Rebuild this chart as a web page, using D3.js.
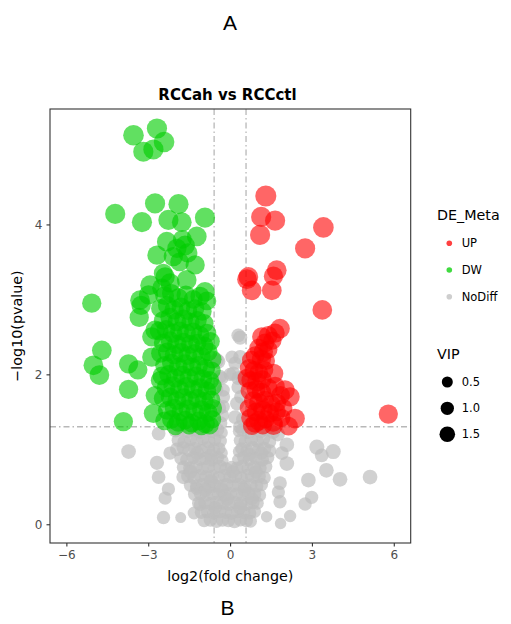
<!DOCTYPE html>
<html><head><meta charset="utf-8">
<script src="https://cdn.jsdelivr.net/npm/d3@7"></script>
<style>body{margin:0;background:#fff}</style>
</head><body>
<svg id="chart" width="511" height="624"></svg>
<script>
// ---------- data: [log2FC, -log10(p), VIP] ----------
const upPoints = [
  [1.31,4.38,2.7],[1.14,4.10,2.5],[1.65,4.05,2.5],[1.10,3.86,2.5],[3.42,3.96,2.6],[2.75,3.68,2.5],
  [0.67,3.30,2.4],[0.62,3.27,2.4],[0.79,3.12,2.4],[1.53,3.12,2.4],[1.71,3.39,2.4],[1.59,3.31,2.3],
  [3.38,2.86,2.4],[5.80,1.47,2.3],
  [1.83,2.61,2.4],[1.65,2.55,2.3],[1.16,2.50,2.3],[1.40,2.52,2.2],[1.28,2.42,2.2],[1.55,2.45,2.1],
  [1.05,2.35,2.2],[1.22,2.30,2.3],[1.40,2.33,2.1],[0.92,2.25,2.2],[1.15,2.20,2.3],[0.78,2.19,2.2],[1.32,2.18,2.0],
  [0.70,2.08,2.2],[0.88,2.05,2.3],[1.05,2.02,2.2],[1.25,2.06,2.1],[1.59,2.01,2.4],[0.62,1.95,2.2],[0.75,1.92,2.1],[0.98,1.90,2.3],[1.18,1.93,2.2],
  [0.72,1.78,2.1],[0.95,1.80,2.2],[1.15,1.76,2.3],[1.40,1.82,2.2],[1.65,1.84,2.3],[2.01,1.79,2.4],[1.85,1.72,2.2],[2.20,1.70,2.3],
  [0.85,1.65,2.2],[1.05,1.62,2.3],[1.28,1.66,2.1],[1.50,1.60,2.2],[1.72,1.62,2.1],[0.68,1.55,2.0],[0.95,1.50,2.2],[1.20,1.52,2.3],[1.45,1.48,2.2],[1.70,1.50,2.2],[1.95,1.55,2.1],
  [0.75,1.42,2.2],[1.05,1.38,2.3],[1.30,1.40,2.1],[1.58,1.36,2.2],[1.88,1.42,2.1],[2.38,1.41,2.4],[0.92,1.35,2.3],[1.59,1.32,2.3],[2.14,1.31,2.2],[0.80,1.31,2.0],[1.20,1.32,2.1]
];
const dwPoints = [
  [-3.54,5.19,2.6],[-2.68,5.28,2.5],[-2.42,5.10,2.6],[-3.18,4.97,2.5],[-2.81,5.00,2.5],
  [-4.21,4.14,2.5],[-2.75,4.28,2.5],[-3.23,4.03,2.5],[-1.89,4.27,2.5],[-2.26,4.06,2.5],[-1.77,4.03,2.4],[-0.92,4.09,2.5],
  [-2.32,3.77,2.4],[-1.65,3.72,2.4],[-1.22,3.84,2.4],[-2.68,3.59,2.3],[-1.28,3.46,2.3],[-2.08,3.57,2.3],[-1.55,3.62,2.3],
  [-1.85,3.50,2.2],[-1.95,3.68,2.3],[-1.75,3.80,2.2],[-2.93,3.19,2.4],[-2.38,3.30,2.3],[-1.59,3.26,2.4],[-0.92,3.10,2.4],
  [-2.20,3.22,2.3],[-2.50,3.15,2.3],[-2.45,3.35,2.2],
  [-5.07,2.95,2.3],[-3.30,2.99,2.4],[-3.26,2.92,2.3],[-3.33,2.76,2.3],[-4.70,2.32,2.4],[-5.01,2.12,2.4],[-4.79,1.99,2.4],
  [-3.72,2.14,2.3],[-3.38,2.06,2.3],[-3.72,1.80,2.3],[-3.91,1.37,2.3],[-2.87,2.23,2.3],[-2.75,1.72,2.2],[-2.81,1.48,2.3],
  [-2.56,1.92,2.2],[-2.99,3.06,2.3],[-2.75,2.59,2.3],[-2.87,2.50,2.3],
  [-2.40,3.05,2.2],[-2.15,3.08,2.2],[-1.90,3.02,2.3],[-1.62,3.06,2.2],[-1.35,3.00,2.2],[-1.10,3.04,2.3],[-0.85,2.98,2.2],
  [-2.55,2.88,2.2],[-2.30,2.92,2.2],[-2.05,2.86,2.3],[-1.80,2.90,2.2],[-1.55,2.85,2.2],[-1.28,2.88,2.1],[-1.02,2.84,2.2],
  [-2.45,2.72,2.2],[-2.20,2.76,2.3],[-1.95,2.70,2.2],[-1.70,2.74,2.2],[-1.45,2.70,2.1],[-1.20,2.72,2.2],[-0.95,2.68,2.2],
  [-2.60,2.58,2.2],[-2.35,2.60,2.2],[-2.10,2.55,2.3],[-1.85,2.58,2.2],[-1.60,2.55,2.2],[-1.35,2.57,2.1],[-1.10,2.52,2.2],[-0.85,2.55,2.2],
  [-2.45,2.42,2.2],[-2.20,2.45,2.2],[-1.95,2.40,2.3],[-1.70,2.43,2.2],[-1.45,2.40,2.2],[-1.20,2.42,2.1],[-0.95,2.38,2.2],[-0.72,2.44,2.2],
  [-2.55,2.28,2.2],[-2.30,2.30,2.2],[-2.05,2.26,2.2],[-1.80,2.29,2.3],[-1.55,2.25,2.2],[-1.30,2.28,2.2],[-1.05,2.24,2.1],[-0.80,2.30,2.2],[-0.65,2.20,2.1],
  [-2.40,2.12,2.2],[-2.15,2.15,2.2],[-1.90,2.10,2.2],[-1.65,2.14,2.3],[-1.40,2.10,2.2],[-1.15,2.12,2.2],[-0.90,2.08,2.2],[-0.68,2.05,2.1],
  [-2.50,1.98,2.2],[-2.25,2.00,2.2],[-2.00,1.95,2.2],[-1.75,1.99,2.2],[-1.50,1.95,2.3],[-1.25,1.98,2.2],[-1.00,1.94,2.2],[-0.75,1.92,2.2],
  [-2.35,1.82,2.2],[-2.10,1.85,2.2],[-1.85,1.80,2.2],[-1.60,1.84,2.2],[-1.35,1.80,2.2],[-1.10,1.82,2.3],[-0.85,1.78,2.2],[-0.64,1.84,2.1],
  [-2.45,1.68,2.2],[-2.20,1.70,2.2],[-1.95,1.65,2.2],[-1.70,1.69,2.2],[-1.45,1.65,2.2],[-1.20,1.68,2.2],[-0.95,1.64,2.2],[-0.70,1.66,2.2],
  [-2.30,1.52,2.2],[-2.05,1.55,2.2],[-1.80,1.50,2.2],[-1.55,1.54,2.2],[-1.30,1.50,2.2],[-1.05,1.53,2.2],[-0.80,1.49,2.2],[-0.63,1.55,2.1],
  [-2.40,1.38,2.2],[-2.15,1.40,2.2],[-1.90,1.36,2.2],[-1.65,1.39,2.2],[-1.40,1.35,2.2],[-1.15,1.38,2.2],[-0.90,1.34,2.2],[-0.66,1.40,2.1],
  [-2.00,1.31,2.1],[-1.50,1.32,2.1],[-1.05,1.31,2.1],[-0.75,1.32,2.1]
];
const noDiffPoints = [
  [-3.72,0.97,1.3],[-2.68,0.82,1.2],[-2.62,0.63,1.1],[-2.26,0.47,1.0],[-2.38,0.35,1.0],[-2.44,0.09,1.0],[-1.81,0.09,0.5],
  [-1.71,0.63,1.2],[-1.32,0.15,0.9],[-1.10,0.26,0.9],[-2.62,1.21,1.1],[-2.20,0.95,1.0],[-1.22,0.48,1.0],
  [3.18,1.03,1.4],[3.78,0.97,1.4],[3.36,0.92,1.1],[3.53,0.72,1.3],[4.03,0.60,1.3],[5.13,0.63,1.3],[2.87,0.59,1.3],
  [2.99,0.36,1.0],[2.75,0.27,1.0],[2.08,1.06,1.3],[2.08,0.81,1.3],[1.83,0.55,1.1],[1.77,0.43,1.0],[1.83,0.30,1.0],
  [2.20,0.11,0.8],[1.85,0.01,0.6],[1.34,0.10,0.6],[1.75,1.20,1.2],[1.90,0.95,1.1],
  [0.37,2.49,1.2],[0.30,2.52,1.1],[-0.44,2.17,1.3],[-0.49,2.19,1.2],[0.12,2.01,1.2],[0.37,2.23,1.2],[0.07,2.23,1.0],
  [0.00,2.00,1.0],[0.30,1.83,1.1],[0.26,1.61,1.2],[0.18,1.43,1.1],[-0.30,1.95,1.0],[-0.25,1.70,1.1],[-0.40,1.55,1.2],
  [-0.28,1.45,1.0],[0.45,1.95,1.0],[0.40,1.70,1.1],[0.48,1.40,1.2],[-0.50,1.80,1.1],[-0.35,1.35,1.1],[0.35,1.30,1.0],
  [0.18,2.15,1.0],[0.30,1.95,1.1],[-0.37,1.97,1.1],[-0.25,1.79,1.0],[-0.25,1.57,1.0],
  [-2.00,1.25,1.1],[-1.78,1.27,1.0],[-1.55,1.24,1.1],[-1.32,1.26,1.0],[-1.10,1.23,1.1],[-0.88,1.27,1.0],[-0.66,1.24,1.1],[-0.45,1.26,1.0],[-0.30,1.22,0.7],
  [0.32,1.24,0.7],[0.45,1.26,1.0],[0.68,1.23,1.1],[0.90,1.27,1.0],[1.12,1.24,1.1],[1.35,1.26,1.0],[1.58,1.23,1.1],
  [-1.90,1.12,1.0],[-1.68,1.10,1.1],[-1.45,1.13,1.0],[-1.22,1.11,1.1],[-1.00,1.14,1.0],[-0.78,1.10,1.1],[-0.56,1.13,1.0],[-0.35,1.11,0.9],
  [0.36,1.12,0.8],[0.55,1.10,1.0],[0.78,1.13,1.1],[1.00,1.11,1.0],[1.22,1.14,1.1],[1.45,1.10,1.0],
  [-1.95,1.00,1.1],[-1.72,1.02,1.0],[-1.50,0.99,1.1],[-1.28,1.01,1.0],[-1.05,0.98,1.1],[-0.82,1.02,1.0],[-0.60,0.99,1.1],[-0.40,1.01,0.9],[-0.30,0.95,0.7],
  [0.32,0.97,0.7],[0.42,1.01,0.9],[0.62,0.98,1.0],[0.84,1.02,1.1],[1.05,0.99,1.0],[1.26,1.01,1.1],[1.45,0.98,1.0],
  [-1.80,0.88,1.0],[-1.58,0.86,1.1],[-1.35,0.89,1.0],[-1.12,0.87,1.1],[-0.90,0.88,1.0],[-0.68,0.86,1.1],[-0.46,0.89,1.0],[-0.28,0.85,0.8],
  [0.30,0.86,0.8],[0.50,0.89,1.0],[0.72,0.87,1.1],[0.95,0.88,1.0],[1.18,0.86,1.1],[1.38,0.89,1.0],
  [-1.70,0.76,1.1],[-1.48,0.75,1.0],[-1.25,0.77,1.1],[-1.02,0.74,1.0],[-0.80,0.77,1.1],[-0.58,0.75,1.0],[-0.36,0.77,1.1],[-0.15,0.74,1.0],
  [0.05,0.76,0.9],[0.25,0.75,1.0],[0.45,0.77,1.1],[0.66,0.74,1.0],[0.88,0.76,1.1],[1.10,0.75,1.0],[1.30,0.77,1.1],
  [-1.55,0.64,1.0],[-1.32,0.62,1.1],[-1.10,0.65,1.0],[-0.88,0.63,1.1],[-0.65,0.64,1.0],[-0.42,0.62,1.1],[-0.20,0.65,1.0],
  [0.00,0.63,1.0],[0.20,0.64,1.1],[0.42,0.62,1.0],[0.64,0.65,1.1],[0.86,0.63,1.0],[1.06,0.64,1.1],[1.25,0.62,1.0],
  [-1.45,0.52,1.0],[-1.22,0.51,1.1],[-1.00,0.53,1.0],[-0.78,0.50,1.1],[-0.56,0.52,1.0],[-0.34,0.51,1.1],[-0.12,0.53,1.0],
  [0.10,0.51,1.0],[0.32,0.53,1.1],[0.54,0.50,1.0],[0.76,0.52,1.1],[0.98,0.51,1.0],[1.15,0.53,1.0],
  [-1.30,0.40,1.0],[-1.08,0.41,1.1],[-0.86,0.39,1.0],[-0.64,0.41,1.1],[-0.42,0.40,1.0],[-0.20,0.39,1.1],[0.02,0.41,1.0],
  [0.24,0.40,1.1],[0.46,0.39,1.0],[0.68,0.41,1.1],[0.90,0.40,1.0],[1.08,0.39,1.0],
  [-1.15,0.28,1.0],[-0.92,0.29,1.1],[-0.70,0.27,1.0],[-0.48,0.29,1.1],[-0.26,0.28,1.0],[-0.04,0.27,1.1],[0.18,0.29,1.0],
  [0.40,0.28,1.1],[0.62,0.27,1.0],[0.84,0.29,1.0],[1.00,0.28,0.9],
  [-1.05,0.16,1.0],[-0.82,0.17,1.1],[-0.60,0.15,1.0],[-0.38,0.17,1.1],[-0.16,0.16,1.0],[0.06,0.15,1.1],[0.28,0.17,1.0],
  [0.50,0.16,1.1],[0.72,0.15,1.0],[0.90,0.17,0.9],
  [-0.95,0.05,1.0],[-0.72,0.06,1.1],[-0.50,0.04,1.0],[-0.28,0.06,1.1],[-0.06,0.05,1.0],[0.16,0.04,1.1],[0.38,0.06,1.0],
  [0.60,0.05,1.0],[0.75,0.04,0.9],
  [-0.70,0.58,1.1],[-0.30,0.46,1.1],[0.10,0.70,1.0],[0.52,0.46,1.1],[-0.55,0.22,1.0],[0.35,0.22,1.0],[-0.10,0.34,1.1],
  [-1.20,0.95,1.1],[-0.70,0.92,1.0],[0.70,0.93,1.1],[1.15,0.95,1.0],[-1.45,0.70,1.1],[0.95,0.70,1.1],[-0.90,0.46,1.0],[0.80,0.34,1.0]
];
const xTicks = [-6,-3,0,3,6];
const yTicks = [0,2,4];
const groups = ["UP","DW","NoDiff"];
const groupColors = ["#FF0000","#00CD00","#BEBEBE"];
const vipBreaks = [0.5,1.0,1.5];
const fcCut = [-0.585, 0.585];
const pCut = 1.301;

// ---------- drawing ----------
const svg = d3.select("#chart");
const L = 50, R = 410.7, T = 109, B = 543;
const x = d3.scaleLinear().domain([-6.6, 6.62]).range([L, R]);
const y = d3.scaleLinear().domain([-0.25, 5.54]).range([B, T]);
const r = d3.scaleLinear().domain([0.5, 1.5]).range([5.5, 7.8]);
const color = d3.scaleOrdinal().domain(groups).range(groupColors);
const opacity = d3.scaleOrdinal().domain(groups).range([0.6, 0.62, 0.7]);
const FONT = "'DejaVu Sans', sans-serif";

svg.append("rect").attr("width",511).attr("height",624).attr("fill","#fff");

// threshold lines
const lineStyle = sel => sel.attr("stroke","#B8B8B8").attr("stroke-width",1.3)
  .attr("stroke-dasharray","6,3,1.5,3").attr("fill","none");
fcCut.forEach(v => svg.append("line").attr("x1",x(v)).attr("x2",x(v)).attr("y1",T).attr("y2",B).call(lineStyle));
svg.append("line").attr("x1",L).attr("x2",R).attr("y1",y(pCut)).attr("y2",y(pCut)).call(lineStyle);

// points
const all = [
  ...noDiffPoints.map(d => ({x:d[0],y:d[1],v:d[2],g:"NoDiff"})),
  ...dwPoints.map(d => ({x:d[0],y:d[1],v:d[2],g:"DW"})),
  ...upPoints.map(d => ({x:d[0],y:d[1],v:d[2],g:"UP"}))
];
svg.append("g").selectAll("circle").data(all).join("circle")
  .attr("cx",d=>x(d.x)).attr("cy",d=>y(d.y)).attr("r",d=>r(d.v))
  .attr("fill",d=>color(d.g)).attr("fill-opacity",d=>opacity(d.g));

// panel border
svg.append("rect").attr("x",L).attr("y",T).attr("width",R-L).attr("height",B-T)
  .attr("fill","none").attr("stroke","#333").attr("stroke-width",1.1);

// axes
const xa = svg.append("g").attr("transform",`translate(0,${B})`)
  .call(d3.axisBottom(x).tickValues(xTicks).tickSize(3.5).tickPadding(4).tickFormat(d3.format("d")));
const ya = svg.append("g").attr("transform",`translate(${L},0)`)
  .call(d3.axisLeft(y).tickValues(yTicks).tickSize(3.5).tickPadding(4).tickFormat(d3.format("d")));
[xa,ya].forEach(a => {
  a.select(".domain").remove();
  a.selectAll(".tick line").attr("stroke","#333").attr("stroke-width",1.1);
  a.selectAll(".tick text").attr("fill","#4D4D4D").style("font-family",FONT).style("font-size","12px");
});
xa.selectAll(".tick text").text(d => d < 0 ? "\u2212" + Math.abs(d) : d);

// titles
svg.append("text").attr("x",227.5).attr("y",100).attr("text-anchor","middle")
  .style("font-family",FONT).style("font-size","15px").style("font-weight","bold").text("RCCah vs RCCctl");
svg.append("text").attr("x",(L+R)/2).attr("y",581).attr("text-anchor","middle")
  .style("font-family",FONT).style("font-size","14.3px").text("log2(fold change)");
svg.append("text").attr("transform",`translate(22,${(T+B)/2}) rotate(-90)`).attr("text-anchor","middle")
  .style("font-family",FONT).style("font-size","14.3px").text("\u2212log10(pvalue)");
svg.append("text").attr("x",230).attr("y",30).attr("text-anchor","middle")
  .style("font-family","'Liberation Sans', Arial, sans-serif").style("font-size","21px").text("A");
svg.append("text").attr("x",227.5).attr("y",615).attr("text-anchor","middle")
  .style("font-family","'Liberation Sans', Arial, sans-serif").style("font-size","21px").text("B");

// legends
const lg = svg.append("g");
lg.append("text").attr("x",437).attr("y",220).style("font-family",FONT).style("font-size","14.3px").text("DE_Meta");
groups.forEach((g,i) => {
  const cy = [243.3,270,296.7][i];
  lg.append("circle").attr("cx",449.3).attr("cy",cy).attr("r",2.8).attr("fill",color(g)).attr("fill-opacity",0.75);
  lg.append("text").attr("x",461.7).attr("y",cy+4).style("font-family",FONT).style("font-size","11.5px").text(g);
});
lg.append("text").attr("x",437).attr("y",358.5).style("font-family",FONT).style("font-size","14.3px").text("VIP");
vipBreaks.forEach((v,i) => {
  const cy = [382,408.3,434.3][i];
  lg.append("circle").attr("cx",447.3).attr("cy",cy).attr("r",r(v)).attr("fill","#000");
  lg.append("text").attr("x",461.7).attr("y",cy+4).style("font-family",FONT).style("font-size","11.5px").text(d3.format(".1f")(v));
});
</script>
</body></html>
